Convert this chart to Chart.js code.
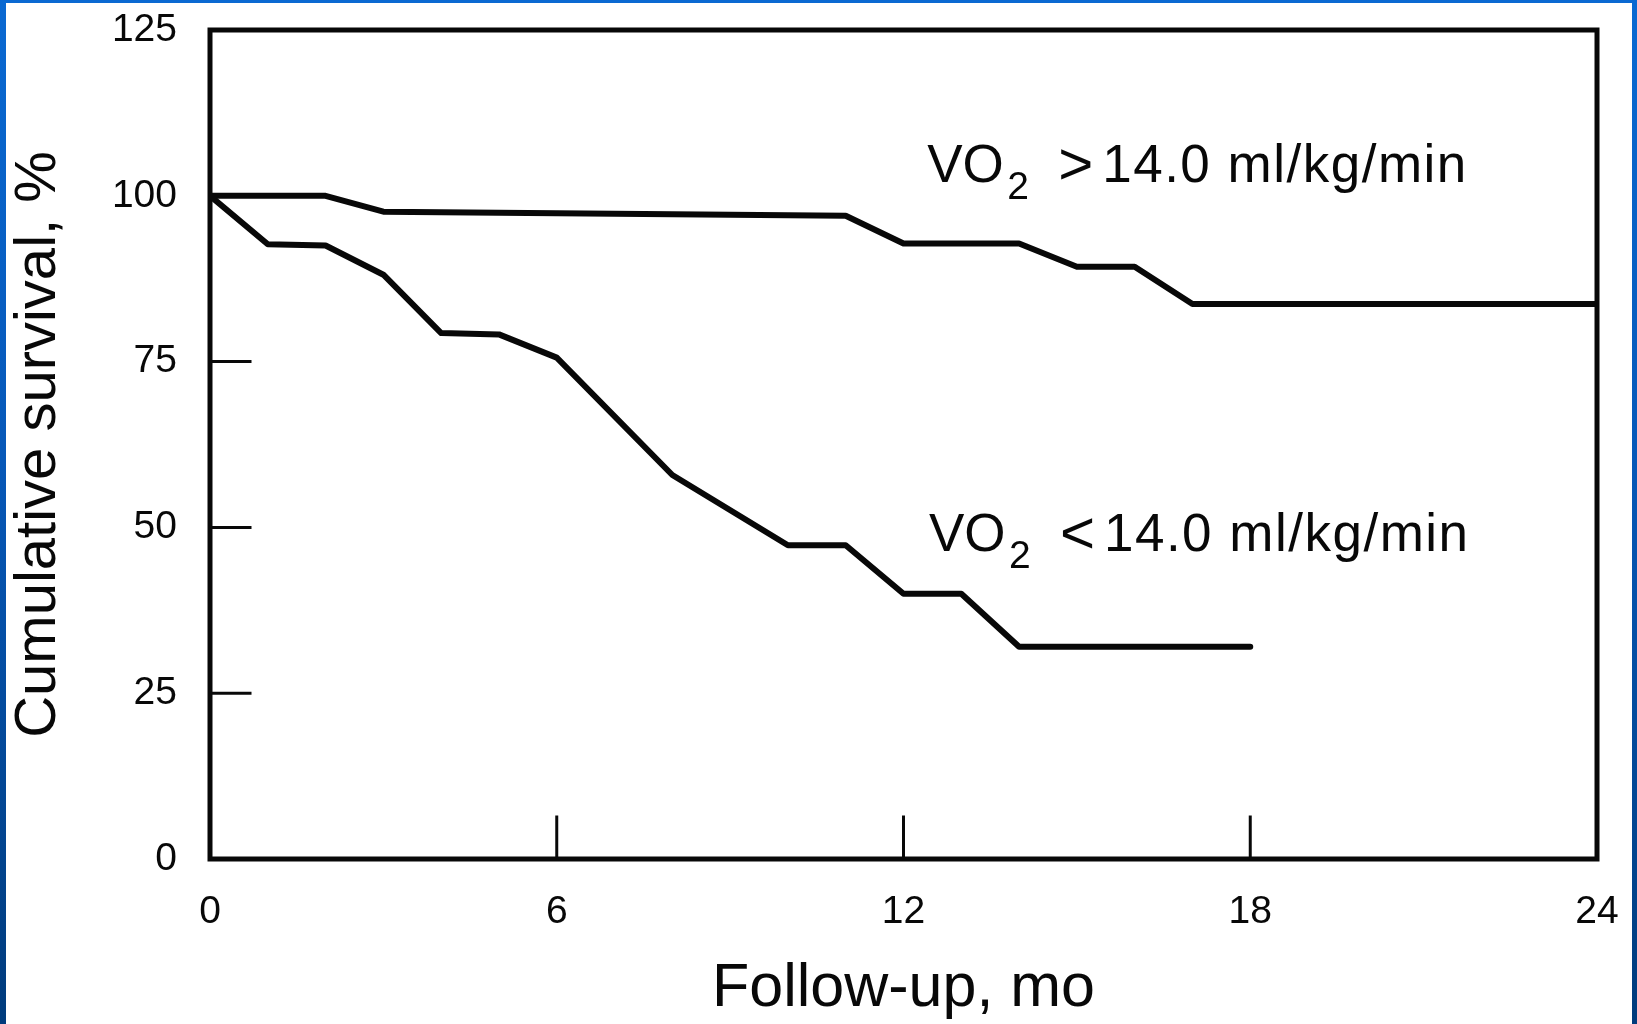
<!DOCTYPE html>
<html>
<head>
<meta charset="utf-8">
<title>Cumulative survival by peak VO2</title>
<script src="https://cdn.jsdelivr.net/npm/chart.js@4.4.1/dist/chart.umd.min.js"></script>
<style>
  html, body { margin: 0; padding: 0; }
  body {
    width: 1637px;
    height: 1024px;
    overflow: hidden;
    position: relative;
    background: linear-gradient(to bottom, #0a69d2 0%, #0758b8 45%, #003b7c 100%);
  }
  #paper {
    position: absolute;
    left: 6px;
    top: 3px;
    width: 1626px;
    height: 1021px;
    background: #fff;
  }
  #survivalChart {
    position: absolute;
    left: 0;
    top: 0;
  }
</style>
</head>
<body>
<div id="paper"></div>
<canvas id="survivalChart" width="1637" height="1024"></canvas>
<script>
// follow-up months and cumulative survival (%)
const highMonths = [0, 2, 3, 11, 12, 14, 15, 16, 17, 24];
const highSurvival = [100, 100, 97.6, 97.0, 92.8, 92.8, 89.3, 89.3, 83.7, 83.7];

const lowMonths = [0, 1, 2, 3, 4, 5, 6, 8, 10, 11, 12, 13, 14, 18];
const lowSurvival = [100, 92.7, 92.5, 88.1, 79.3, 79.1, 75.6, 57.9, 47.3, 47.3, 40, 40, 32, 32];

const xTickValues = [0, 6, 12, 18, 24];
const yTickValues = [0, 25, 50, 75, 100, 125];

const groupSigns = ['>', '<'];
const groupUnit = '14.0 ml/kg/min';

const FONT = '"Liberation Sans", Arial, Helvetica, sans-serif';
const INK = '#080808';

function toPoints(xs, ys) {
  return xs.map((x, i) => ({ x: x, y: ys[i] }));
}

// box round the plot plus the short inward ticks
const framePlugin = {
  id: 'frame',
  beforeDatasetsDraw(chart) {
    const { ctx, chartArea: a, scales: { x, y } } = chart;
    ctx.save();
    ctx.strokeStyle = INK;
    ctx.lineCap = 'square';

    ctx.lineWidth = 3;
    xTickValues.slice(1, -1).forEach(v => {
      const px = x.getPixelForValue(v);
      ctx.beginPath();
      ctx.moveTo(px, a.bottom);
      ctx.lineTo(px, a.bottom - 42);
      ctx.stroke();
    });
    yTickValues.slice(1, -1).forEach(v => {
      const py = y.getPixelForValue(v);
      ctx.beginPath();
      ctx.moveTo(a.left, py);
      ctx.lineTo(a.left + 40, py);
      ctx.stroke();
    });

    ctx.lineWidth = 5;
    ctx.strokeRect(a.left, a.top, a.right - a.left, a.bottom - a.top);
    ctx.restore();
  }
};

// "VO2 >14.0 ml/kg/min" style labels next to each curve
const groupLabelPlugin = {
  id: 'groupLabels',
  afterDatasetsDraw(chart, args, opts) {
    const { ctx, scales: { x, y } } = chart;
    ctx.save();
    ctx.fillStyle = INK;
    ctx.textBaseline = 'alphabetic';
    ctx.textAlign = 'left';
    opts.anchors.forEach((at, i) => {
      const px = x.getPixelForValue(at[0]);
      const py = y.getPixelForValue(at[1]);
      ctx.font = '53px ' + FONT;
      ctx.fillText('VO', px, py);
      ctx.font = '39px ' + FONT;
      ctx.fillText('2', px + 80, py + 17);
      ctx.font = '60px ' + FONT;
      ctx.fillText(groupSigns[i], px + 131, py + 2);
      ctx.font = '53px ' + FONT;
      ctx.letterSpacing = '1.5px';
      ctx.fillText(groupUnit, px + 175, py);
      ctx.letterSpacing = '0px';
    });
    ctx.restore();
  }
};

function makeDataset(label, xs, ys) {
  return {
    label: label,
    data: toPoints(xs, ys),
    borderColor: INK,
    borderWidth: 6,
    borderJoinStyle: 'round',
    borderCapStyle: 'round',
    pointRadius: 0,
    fill: false,
    tension: 0
  };
}

const ctx = document.getElementById('survivalChart').getContext('2d');

const survivalChart = new Chart(ctx, {
  type: 'line',
  data: {
    datasets: [
      makeDataset('VO2 ' + groupSigns[0] + groupUnit, highMonths, highSurvival),
      makeDataset('VO2 ' + groupSigns[1] + groupUnit, lowMonths, lowSurvival)
    ]
  },
  options: {
    responsive: false,
    devicePixelRatio: 1,
    animation: false,
    layout: {
      padding: { top: 30, right: 40, bottom: 0, left: 0 }
    },
    scales: {
      x: {
        type: 'linear',
        min: 0,
        max: 24,
        afterBuildTicks: s => { s.ticks = xTickValues.map(v => ({ value: v })); },
        afterFit: s => {
          s.height = 165;
          s.paddingLeft = 0;
          s.paddingRight = 0;
        },
        grid: { display: false, drawTicks: false },
        border: { display: false },
        ticks: {
          color: INK,
          padding: 30,
          maxRotation: 0,
          font: { family: FONT, size: 39 }
        },
        title: {
          display: true,
          text: 'Follow-up, mo',
          color: INK,
          padding: { top: 0, bottom: 4 },
          font: { family: FONT, size: 61, lineHeight: 1 }
        }
      },
      y: {
        type: 'linear',
        min: 0,
        max: 125,
        afterBuildTicks: s => { s.ticks = yTickValues.map(v => ({ value: v })); },
        afterFit: s => {
          s.width = 210;
          s.paddingTop = 0;
          s.paddingBottom = 0;
        },
        grid: { display: false, drawTicks: false },
        border: { display: false },
        ticks: {
          color: INK,
          padding: 33,
          font: { family: FONT, size: 39 }
        },
        title: {
          display: true,
          text: 'Cumulative survival, %',
          color: INK,
          padding: { top: 10, bottom: 0 },
          font: { family: FONT, size: 58, lineHeight: 1 }
        }
      }
    },
    plugins: {
      legend: { display: false },
      tooltip: { enabled: false },
      groupLabels: {
        anchors: [[12.41, 102.1], [12.44, 46.4]]
      }
    }
  },
  plugins: [framePlugin, groupLabelPlugin]
});
</script>
</body>
</html>
